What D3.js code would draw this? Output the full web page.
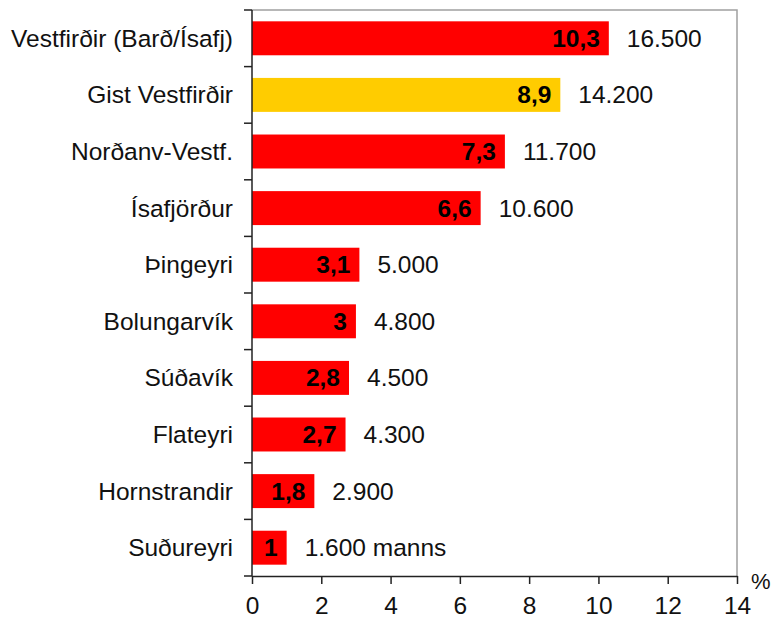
<!DOCTYPE html>
<html><head><meta charset="utf-8">
<script src="https://cdn.jsdelivr.net/npm/d3@7"></script>
<style>body{margin:0;background:#fff}svg{display:block}text{font-family:"Liberation Sans",Arial,sans-serif}</style>
</head><body><svg id="c" width="772" height="622"></svg>
<script>
const categories = ["Vestfirðir (Barð/Ísafj)","Gist Vestfirðir","Norðanv-Vestf.","Ísafjörður","Þingeyri","Bolungarvík","Súðavík","Flateyri","Hornstrandir","Suðureyri"];
const percentValues = [10.3, 8.9, 7.3, 6.6, 3.1, 3, 2.8, 2.7, 1.8, 1];
const percentLabels = ["10,3","8,9","7,3","6,6","3,1","3","2,8","2,7","1,8","1"];
const countLabels = ["16.500","14.200","11.700","10.600","5.000","4.800","4.500","4.300","2.900","1.600 manns"];
const highlight = ["Gist Vestfirðir"];
const xTicks = [0,2,4,6,8,10,12,14];

const FS = 24.5;
const svg = d3.select("#c");
const m = {left:252, right:737, top:10, bottom:576};
const x = d3.scaleLinear().domain([0,14]).range([m.left, m.right]);
const y = d3.scaleBand().domain(categories).range([m.top, m.bottom]).paddingInner(0.4).paddingOuter(0.2);

svg.append("path").attr("d",`M${m.left},${m.top}H${m.right}V${m.bottom}`).attr("fill","none").attr("stroke","#a0a0a0").attr("stroke-width",1.5);

svg.selectAll("rect.bar").data(categories).join("rect")
  .attr("x", x(0)).attr("y", d=>y(d))
  .attr("width", (d,i)=>x(percentValues[i])-x(0)).attr("height", y.bandwidth())
  .attr("fill", d=>highlight.includes(d)?"#FFCC00":"#FF0000");

const step = y.step();
const yAxis = svg.append("g");
yAxis.append("line").attr("x1",m.left).attr("x2",m.left).attr("y1",m.top).attr("y2",m.bottom).attr("stroke","#222").attr("stroke-width",1.5);
d3.range(categories.length+1).forEach(i=>{
  const yy = m.top + i*step;
  yAxis.append("line").attr("x1",m.left-8).attr("x2",m.left).attr("y1",yy).attr("y2",yy).attr("stroke","#222").attr("stroke-width",1.5);
});
yAxis.selectAll("text").data(categories).join("text")
  .attr("x", m.left-19).attr("y", d=>y(d)+y.bandwidth()/2).attr("dy","0.35em")
  .attr("text-anchor","end").attr("font-size",FS).attr("fill","#111").text(d=>d);

const xa = svg.append("g").attr("transform",`translate(0,${m.bottom})`)
  .call(d3.axisBottom(x).tickValues(xTicks).tickSize(8).tickSizeOuter(0).tickPadding(13).tickFormat(d3.format("d")));
xa.select(".domain").attr("stroke","#222").attr("stroke-width",1.5);
xa.selectAll(".tick line").attr("stroke","#222").attr("stroke-width",1.5);
xa.selectAll(".tick text").attr("font-size",FS).attr("fill","#111").style("font-family",'"Liberation Sans",Arial,sans-serif');
svg.append("text").attr("x",751).attr("y",589).attr("font-size",22).attr("fill","#111").text("%");

svg.selectAll("text.in").data(categories).join("text").attr("class","in")
  .attr("x",(d,i)=>x(percentValues[i])-9).attr("y",d=>y(d)+y.bandwidth()/2).attr("dy","0.35em")
  .attr("text-anchor","end").attr("font-size",FS).attr("font-weight","bold").attr("fill","#000")
  .text((d,i)=>percentLabels[i]);
svg.selectAll("text.out").data(categories).join("text").attr("class","out")
  .attr("x",(d,i)=>x(percentValues[i])+18).attr("y",d=>y(d)+y.bandwidth()/2).attr("dy","0.35em")
  .attr("font-size",FS).attr("fill","#111")
  .text((d,i)=>countLabels[i]);
</script></body></html>
